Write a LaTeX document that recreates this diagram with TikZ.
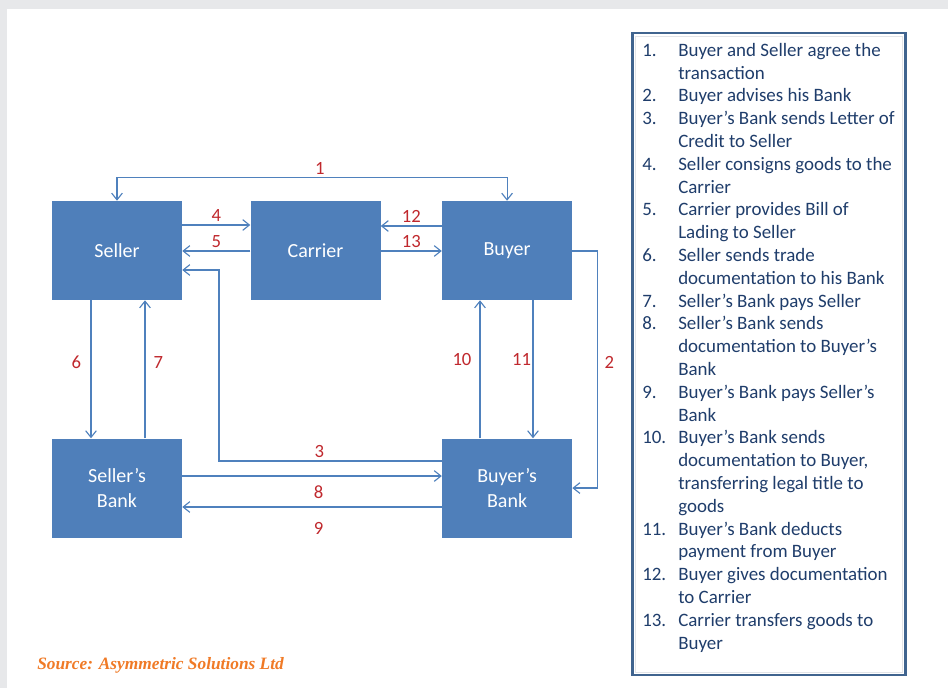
\documentclass[tikz,border=0pt]{standalone}
\usepackage{fontspec}
\setmainfont{Carlito}
\newfontfamily\sourcefont{Liberation Serif}
\usetikzlibrary{positioning, arrows.meta}
\definecolor{boxblue}{HTML}{4F7FBA}
\definecolor{lineblue}{HTML}{4F81BD}
\definecolor{numred}{HTML}{C0282D}
\definecolor{listtext}{HTML}{1F3D6B}
\definecolor{frameblue}{HTML}{40648F}
\definecolor{framegray}{HTML}{E2E4E8}
\definecolor{bggray}{HTML}{E7E8EA}
\definecolor{sourceorange}{HTML}{F07A26}
\tikzstyle{party} = [rectangle, minimum width=97.5pt, minimum height=74.25pt, inner sep=0pt, text centered, align=center, fill=boxblue, text=white, font=\fontsize{15pt}{19pt}\selectfont]
\tikzstyle{arrow} = [draw=lineblue, line width=0.85pt, -{Straight Barb[length=5pt,width=8pt]}]
\tikzstyle{twoway} = [draw=lineblue, line width=0.85pt, {Straight Barb[length=5pt,width=8pt]}-{Straight Barb[length=5pt,width=8pt]}]
\tikzstyle{num} = [text=numred, inner sep=2pt, font=\fontsize{14pt}{17pt}\selectfont]

\begin{document}
\begin{tikzpicture}[x=0.75pt, y=-0.75pt]
    \useasboundingbox (0,0) rectangle (948,688);
    \fill[white] (0,0) rectangle (948,688);
    \fill[bggray] (0,0) rectangle (948,9);
    \fill[bggray] (0,0) rectangle (7,688);

    \node [party] at (117,250.5)					(seller)	{Seller};
    \node [party, right=51pt of seller]				(carrier)	{Carrier};
    \node [party, right=45.75pt of carrier]			(buyer)		{Buyer};
    \node [party, below=103.5pt of seller]			(sbank)		{Seller’s\\Bank};
    \node [party, below=103.5pt of buyer]			(bbank)		{Buyer’s\\Bank};

    \draw [twoway] (seller.north) -- ++(0,-23) -| node[num, pos=0.26, above]{1} (buyer.north);
    \draw [arrow] (buyer.east |- 0,251) -- ++(25,0) |- node[num, pos=0.235, right=3pt]{2} (bbank.east);
    \draw [arrow] (bbank.west |- 0,461) -| node[num, pos=0.275, above]{3} (219,270) -- (seller.east |- 0,270);
    \draw [arrow] (seller.east |- 0,225) -- node[num, above]{4} (carrier.west |- 0,225);
    \draw [arrow] (carrier.west |- 0,251) -- node[num, above]{5} (seller.east |- 0,251);
    \draw [arrow] (seller.south -| 91,0) -- node[num, pos=0.45, left=5pt]{6} (sbank.north -| 91,0);
    \draw [arrow] (sbank.north -| 145,0) -- node[num, pos=0.55, right=4pt]{7} (seller.south -| 145,0);
    \draw [arrow] (sbank.east |- 0,476) -- node[num, below=5pt, xshift=5pt]{8} (bbank.west |- 0,476);
    \draw [arrow] (bbank.west |- 0,507) -- node[num, below=9pt, xshift=5pt]{9} (sbank.east |- 0,507);
    \draw [arrow] (bbank.north -| 480,0) -- node[num, pos=0.57, left=4pt]{10} (buyer.south -| 480,0);
    \draw [arrow] (buyer.south -| 533,0) -- node[num, pos=0.43, left=-1pt]{11} (bbank.north -| 533,0);
    \draw [arrow] (buyer.west |- 0,226) -- node[num, above]{12} (carrier.east |- 0,226);
    \draw [arrow] (carrier.east |- 0,251) -- node[num, above]{13} (buyer.west |- 0,251);

    % list of steps
    \draw [frameblue, line width=1.9pt] (632.5,33) rectangle (905.5,675);
    \draw [framegray, line width=0.6pt] (635.5,36) rectangle (902.5,672);
    \node [anchor=north west, inner sep=0pt, text=listtext, font=\fontsize{14.2pt}{17.1pt}\selectfont] (steps) at (642,40) {%
      \begin{tabular}{@{}p{27pt}@{}l@{}}
      1. & Buyer and Seller agree the\\
         & transaction\\
      2. & Buyer advises his Bank\\
      3. & Buyer’s Bank sends Letter of\\
         & Credit to Seller\\
      4. & Seller consigns goods to the\\
         & Carrier\\
      5. & Carrier provides Bill of\\
         & Lading to Seller\\
      6. & Seller sends trade\\
         & documentation to his Bank\\
      7. & Seller’s Bank pays Seller\\
      8. & Seller’s Bank sends\\
         & documentation to Buyer’s\\
         & Bank\\
      9. & Buyer’s Bank pays Seller’s\\
         & Bank\\
      10. & Buyer’s Bank sends\\
         & documentation to Buyer,\\
         & transferring legal title to\\
         & goods\\
      11. & Buyer’s Bank deducts\\
         & payment from Buyer\\
      12. & Buyer gives documentation\\
         & to Carrier\\
      13. & Carrier transfers goods to\\
         & Buyer
      \end{tabular}};

    \node [anchor=west, inner sep=0pt, text=sourceorange, font=\sourcefont\bfseries\itshape\fontsize{13pt}{15pt}\selectfont] (source) at (37,665) {Source: Asymmetric Solutions Ltd};
\end{tikzpicture}
\end{document}
